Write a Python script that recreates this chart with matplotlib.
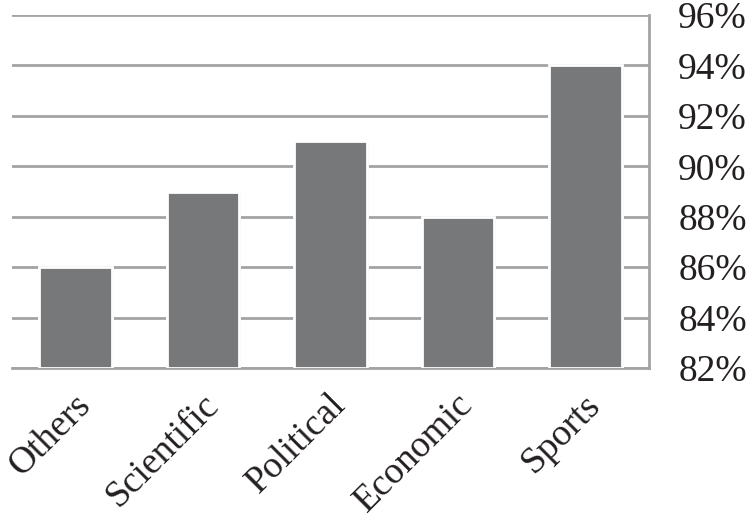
import matplotlib
matplotlib.use("Agg")
import matplotlib.pyplot as plt
import matplotlib.patheffects as pe
import matplotlib.transforms as mtrans
from matplotlib.ticker import FuncFormatter

categories = ["Others", "Scientific", "Political", "Economic", "Sports"]
values = [86, 89, 91, 88, 94]
yticks = [82, 84, 86, 88, 90, 92, 94, 96]

plt.rcParams['font.family'] = ['Liberation Serif', 'DejaVu Serif']

fig = plt.figure(figsize=(7.47, 5.2), dpi=100)
ax = fig.add_axes([12/747, 1 - 368/520, (649-12)/747, (368-15)/520])

x = range(len(categories))
bars = ax.bar(x, [v - 82 for v in values], bottom=82, width=0.57, color='#77787a',
              edgecolor='white', linewidth=2, zorder=3)
for b in bars:
    b.set_path_effects([pe.SimplePatchShadow(offset=(1.5, -1), shadow_rgbFace='#c8c8c8', alpha=0.8), pe.Normal()])

ax.set_ylim(82, 96)
ax.set_xlim(-0.5, len(categories) - 0.5)
ax.set_yticks(yticks)
ax.yaxis.set_major_formatter(FuncFormatter(lambda v, p: f"{int(v)}%"))
ax.yaxis.tick_right()
ax.tick_params(axis='y', length=0, pad=21, labelsize=27, labelcolor='#231f20')
ax.grid(axis='y', color='#a3a3a3', linewidth=2, zorder=0)
ax.set_axisbelow(True)

for s in ['left', 'top']:
    ax.spines[s].set_visible(False)
ax.spines['right'].set_color('#a3a3a3')
ax.spines['right'].set_linewidth(2)
ax.spines['bottom'].set_color('#a3a3a3')
ax.spines['bottom'].set_linewidth(2)

ax.set_xticks(list(x))
ax.set_xticklabels(categories, rotation=45, ha='right', va='top', rotation_mode='anchor',
                   fontsize=27, color='#231f20')
ax.tick_params(axis='x', length=0, pad=14)
off = mtrans.ScaledTranslation(-2/100, 0, fig.dpi_scale_trans)
for lbl in ax.get_xticklabels():
    lbl.set_transform(lbl.get_transform() + off)

fig.savefig("out.png", dpi=100)
